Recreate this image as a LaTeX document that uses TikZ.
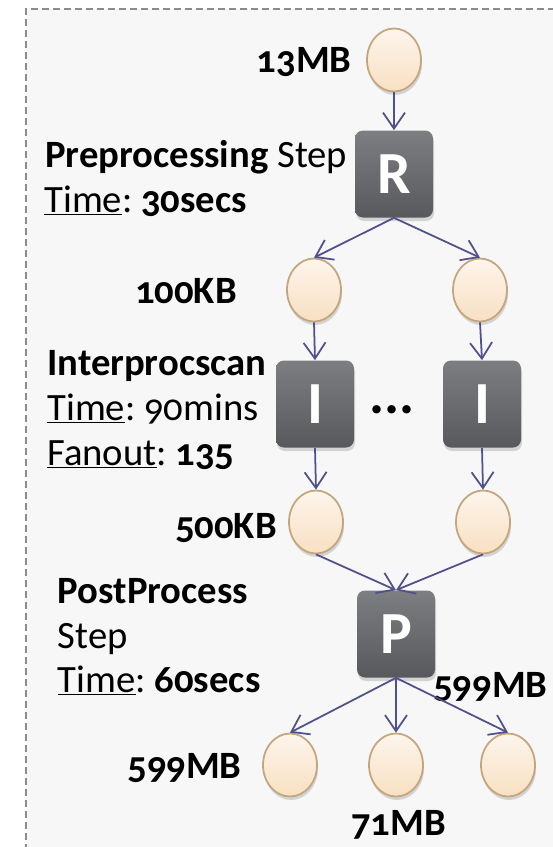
\documentclass[tikz,border=0pt]{standalone}
\usepackage{fontspec}
\setmainfont{Carlito}[Numbers=OldStyle]
\usetikzlibrary{arrows.meta,shadows,shapes.geometric}
\definecolor{bgGray}{RGB}{247, 247, 247}
\definecolor{frameGray}{RGB}{140, 140, 140}
\definecolor{flowBlue}{RGB}{80, 80, 140}
\definecolor{eggTop}{RGB}{253, 245, 236}
\definecolor{eggBot}{RGB}{248, 224, 194}
\definecolor{eggLine}{RGB}{196, 166, 126}
\definecolor{boxTop}{RGB}{124, 126, 130}
\definecolor{boxBot}{RGB}{88, 89, 93}
\frenchspacing

\begin{document}
\begin{tikzpicture}[
    font=\fontsize{22}{26}\selectfont,
    >={Straight Barb[length=0.32cm, width=0.44cm]},
    egg/.style={ellipse, minimum width=1.08cm, minimum height=1.26cm, inner sep=0pt,
        draw=eggLine, line width=1pt, top color=eggTop, bottom color=eggBot,
        drop shadow={opacity=0.3, shadow xshift=0.02cm, shadow yshift=-0.07cm}},
    stage/.style={rectangle, rounded corners=0.16cm, minimum width=1.56cm, minimum height=1.74cm,
        inner sep=0pt, top color=boxTop, bottom color=boxBot, text=white,
        font=\fontsize{34}{34}\selectfont\bfseries,
        drop shadow={opacity=0.3, shadow xshift=0.02cm, shadow yshift=-0.07cm}},
    flow/.style={->, draw=flowBlue, line width=1pt},
    lbl/.style={inner sep=0pt}
]
    \useasboundingbox (0,0) rectangle (11.06,-16.94);

    % ================= frame =================
    \fill[bgGray] (0.52,-0.18) rectangle (11.06,-16.94);
    \draw[frameGray, line width=1.1pt, dash pattern=on 0.14cm off 0.08cm]
        (11.10,-0.18) -- (0.52,-0.18) -- (0.52,-17.0);

    % ================= input + R =================
    \node[egg] (in0) at (7.88, -1.20) {};
    \node[stage] (rBox) at (7.88, -3.48) {R};
    \node[lbl, anchor=base east] (lblIn) at (7.04, -1.44) {\textbf{13MB}};
    \node[lbl, anchor=base west] (preA) at (0.90, -3.34) {\textbf{Preprocessing} Step};
    \node[lbl, anchor=base west] (preB) at (0.88, -4.24) {\underline{Time}: \textbf{30secs}};

    % ================= I layer =================
    \node[egg] (a1) at (6.28, -5.80) {};
    \node[egg] (a2) at (9.60, -5.80) {};
    \node[stage] (iBoxA) at (6.30, -8.08) {I};
    \node[stage] (iBoxB) at (9.64, -8.08) {I};
    \node[lbl, font=\fontsize{32}{32}\selectfont\bfseries] (dots) at (7.84, -8.20) {...};
    \node[lbl, anchor=base east] (lblA) at (4.74, -6.06) {\textbf{100KB}};
    \node[lbl, anchor=base west] (intA) at (0.94, -7.50) {\textbf{Interprocscan}};
    \node[lbl, anchor=base west] (intB) at (0.94, -8.40) {\underline{Time}: 90mins};
    \node[lbl, anchor=base west] (intC) at (0.94, -9.30) {\underline{Fanout}: \textbf{135}};

    % ================= P layer =================
    \node[egg] (b1) at (6.32, -10.44) {};
    \node[egg] (b2) at (9.66, -10.44) {};
    \node[stage] (pBox) at (7.92, -12.68) {P};
    \node[lbl, anchor=base east] (lblB) at (5.54, -10.76) {\textbf{500KB}};
    \node[lbl, anchor=base west] (postA) at (1.15, -12.06) {\textbf{PostProcess}};
    \node[lbl, anchor=base west] (postB) at (1.15, -12.96) {Step};
    \node[lbl, anchor=base west] (postC) at (1.15, -13.84) {\underline{Time}: \textbf{60secs}};

    % ================= outputs =================
    \node[egg] (o1) at (5.80, -15.30) {};
    \node[egg] (o2) at (7.92, -15.30) {};
    \node[egg] (o3) at (10.16, -15.30) {};
    \node[lbl, anchor=base west] (lblR) at (8.66, -13.94) {\textbf{599MB}};
    \node[lbl, anchor=base east] (lblL) at (4.84, -15.56) {\textbf{599MB}};
    \node[lbl, anchor=base] (lblM) at (7.97, -16.70) {\textbf{71MB}};

    % ================= arrows =================
    \draw[flow] (in0.south) -- (rBox.north);
    \draw[flow] (rBox.south) -- (a1.north);
    \draw[flow] (rBox.south) -- (a2.north);
    \draw[flow] (a1.south) -- (iBoxA.north);
    \draw[flow] (a2.south) -- (iBoxB.north);
    \draw[flow] (iBoxA.south) -- (b1.north);
    \draw[flow] (iBoxB.south) -- (b2.north);
    \draw[flow] (b1.south) -- (pBox.north);
    \draw[flow] (b2.south) -- (pBox.north);
    \draw[flow] (pBox.south) -- (o1.north);
    \draw[flow] (pBox.south) -- (o2.north);
    \draw[flow] (pBox.south) -- (o3.north);

\end{tikzpicture}
\end{document}
